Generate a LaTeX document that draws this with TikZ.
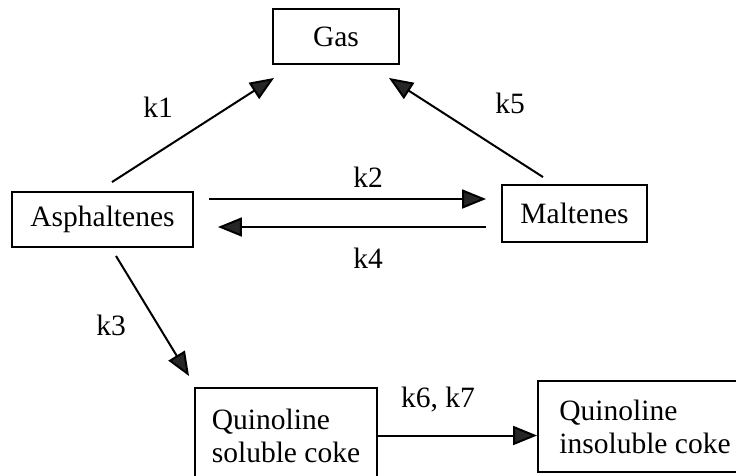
\documentclass[tikz,border=0pt]{standalone}
\usepackage{fontspec}
\setmainfont{Liberation Serif}
\usetikzlibrary{arrows.meta}
\begin{document}
\begin{tikzpicture}[x=1pt,y=1pt,
  box/.style={draw=black, line width=1.9pt, inner sep=0pt, font=\fontsize{29.5}{33}\selectfont},
  lbl/.style={font=\fontsize{29.5}{33}\selectfont, inner sep=0pt},
  arr/.style={draw=black, line width=2pt, -{Triangle[length=24pt,width=19pt,fill=black!85]}}]
\useasboundingbox (0,0) rectangle (736,-475);
\fill[white] (0,0) rectangle (736,-475);
% nodes
\node[box, minimum width=126pt, minimum height=55pt] (gas) at (336,-36.5) {Gas};
\node[box, minimum width=181pt, minimum height=55pt] (asph) at (102.5,-219.5) {Asphaltenes};
\node[box, minimum width=145pt, minimum height=57pt] (malt) at (574.5,-213.5) {Maltenes};
\node[box, minimum width=182pt, minimum height=95pt, align=left] (qs) at (286,-435.5) {Quinoline\\soluble coke};
\node[box, minimum width=214pt, minimum height=91pt, align=left] (qi) at (645,-426.5) {Quinoline\\insoluble coke};
% connectors
\draw[arr] ([xshift=9.5pt,yshift=9pt]asph.north) -- ([xshift=2pt,yshift=-13pt]gas.south west);
\draw[arr] ([xshift=-31.5pt,yshift=7pt]malt.north) -- ([xshift=-11pt,yshift=-13pt]gas.south east);
\draw[arr] ([xshift=15pt,yshift=20.5pt]asph.east) -- ([xshift=-15pt,yshift=14.5pt]malt.west);
\draw[arr] ([xshift=-15pt,yshift=-13.5pt]malt.west) -- ([xshift=24pt,yshift=-7.5pt]asph.east);
\draw[arr] ([xshift=13.5pt,yshift=-8pt]asph.south) -- ([xshift=-5pt,yshift=11pt]qs.north west);
\draw[arr] (qs.east) -- (qs.east -| qi.west);
% labels
\node[lbl] (l1) at (158,-107) {k1};
\node[lbl] (l5) at (510,-103) {k5};
\node[lbl] (l2) at (368,-177) {k2};
\node[lbl] (l4) at (368,-258) {k4};
\node[lbl] (l3) at (111,-325) {k3};
\node[lbl] (l67) at (438,-400) {k6, k7};
\end{tikzpicture}
\end{document}
